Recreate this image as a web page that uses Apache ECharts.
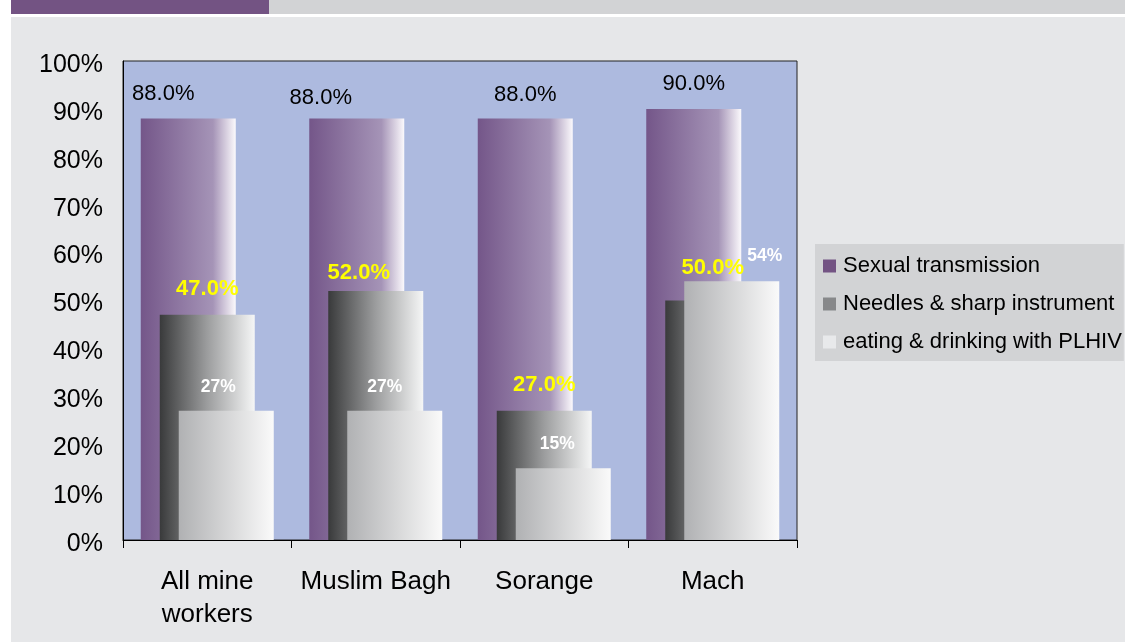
<!DOCTYPE html>
<html>
<head>
<meta charset="utf-8">
<script src="https://cdn.jsdelivr.net/npm/echarts@6/dist/echarts.min.js"></script>
<style>
  html, body { margin: 0; padding: 0; background: #ffffff; }
  #chart { width: 1125px; height: 642px; }
</style>
</head>
<body>
<div id="chart"></div>
<script>
// ---- data ----
const categories = ['All mine\nworkers', 'Muslim Bagh', 'Sorange', 'Mach'];
const seriesNames = ['Sexual transmission', 'Needles & sharp instrument', 'eating & drinking with PLHIV'];
const sexual = [88, 88, 88, 90];
const needles = [47, 52, 27, 50];
const eating = [27, 27, 15, 54];
const yTicks = { min: 0, max: 100, interval: 10 };

// ---- label nudges (style: [dx, dy above bar top]) ----
const nudgeSexual = [[-25, 25], [-36, 21], [0, 24], [0, 25]];
const nudgeNeedles = [[0, 26], [-17, 18], [0, 26], [0, 33]];
const nudgeEating = [[-8, 23], [-10, 23], [-6, 24], [33, 25]];

function grad(stops) {
  return new echarts.graphic.LinearGradient(0, 0, 1, 0,
    stops.map(s => ({ offset: s[0], color: s[1] })));
}

function buildData(values, nudges) {
  return values.map((v, i) => ({
    value: v,
    label: { offset: [nudges[i][0], -nudges[i][1]] }
  }));
}

const chart = echarts.init(document.getElementById('chart'), null, { renderer: 'canvas' });

const FONT = 'Liberation Sans, Arial, sans-serif';
const baseLabel = {
  show: true,
  position: 'top',
  distance: 0,
  verticalAlign: 'middle',
  fontFamily: FONT
};

chart.setOption({
  animation: false,
  backgroundColor: '#ffffff',
  graphic: [
    { type: 'rect', z: -100, silent: true, shape: { x: 11, y: 17, width: 1114, height: 625 }, style: { fill: '#e6e7e9' } },
    { type: 'rect', z: -100, silent: true, shape: { x: 11, y: 0, width: 258, height: 14 }, style: { fill: '#735383' } },
    { type: 'rect', z: -100, silent: true, shape: { x: 269, y: 0, width: 856, height: 14 }, style: { fill: '#d2d3d5' } }
  ],
  grid: {
    left: 123, top: 61, width: 674, height: 479,
    show: true,
    backgroundColor: '#adbadf',
    borderColor: '#222222',
    borderWidth: 1,
    containLabel: false
  },
  legend: {
    orient: 'vertical',
    left: 815,
    top: 244,
    backgroundColor: '#d2d3d5',
    padding: [11, 2, 8, 8],
    itemWidth: 13,
    itemHeight: 13,
    itemGap: 16,
    align: 'left',
    icon: 'rect',
    textStyle: {
      fontFamily: FONT,
      fontSize: 22,
      lineHeight: 22,
      color: '#000000',
      padding: [0, 0, 0, 2]
    },
    data: [
      { name: seriesNames[0], itemStyle: { color: '#735383' } },
      { name: seriesNames[1], itemStyle: { color: '#87888a' } },
      { name: seriesNames[2], itemStyle: { color: '#e8e9eb' } }
    ]
  },
  xAxis: {
    type: 'category',
    data: categories,
    axisLine: { show: true, lineStyle: { color: '#000000', width: 1 } },
    axisTick: { show: true, length: 8, alignWithLabel: false, lineStyle: { color: '#000000' } },
    axisLabel: {
      interval: 0,
      margin: 25,
      fontFamily: FONT,
      fontSize: 26,
      lineHeight: 33,
      color: '#000000'
    },
    splitLine: { show: false }
  },
  yAxis: {
    type: 'value',
    min: yTicks.min,
    max: yTicks.max,
    interval: yTicks.interval,
    axisLine: { show: true, lineStyle: { color: '#000000', width: 1 } },
    axisTick: { show: false },
    axisLabel: {
      formatter: '{v|{value}%}',
      margin: 20,
      rich: {
        v: {
          fontFamily: FONT,
          fontSize: 25,
          color: '#000000',
          padding: [8, 0, 0, 0]
        }
      }
    },
    splitLine: { show: false }
  },
  series: [
    {
      name: seriesNames[0],
      type: 'bar',
      barWidth: 95,
      barGap: '-80%',
      data: buildData(sexual, nudgeSexual),
      itemStyle: {
        color: grad([[0, '#745689'], [0.76, '#a594b7'], [1, '#fbf9fc']])
      },
      label: Object.assign({}, baseLabel, {
        formatter: p => p.value.toFixed(1) + '%',
        fontSize: 22,
        color: '#000000'
      })
    },
    {
      name: seriesNames[1],
      type: 'bar',
      barWidth: 95,
      barGap: '-80%',
      data: buildData(needles, nudgeNeedles),
      itemStyle: {
        color: grad([[0, '#393a3b'], [0.5, '#9c9d9e'], [1, '#f5f6f6']])
      },
      label: Object.assign({}, baseLabel, {
        formatter: p => p.value.toFixed(1) + '%',
        fontSize: 22,
        fontWeight: 'bold',
        color: '#ffff00'
      })
    },
    {
      name: seriesNames[2],
      type: 'bar',
      barWidth: 95,
      barGap: '-80%',
      data: buildData(eating, nudgeEating),
      itemStyle: {
        color: grad([[0, '#b0b1b3'], [1, '#fafafa']])
      },
      label: Object.assign({}, baseLabel, {
        formatter: p => p.value + '%',
        fontSize: 17.5,
        fontWeight: 'bold',
        color: '#ffffff'
      })
    }
  ]
});
</script>
</body>
</html>
